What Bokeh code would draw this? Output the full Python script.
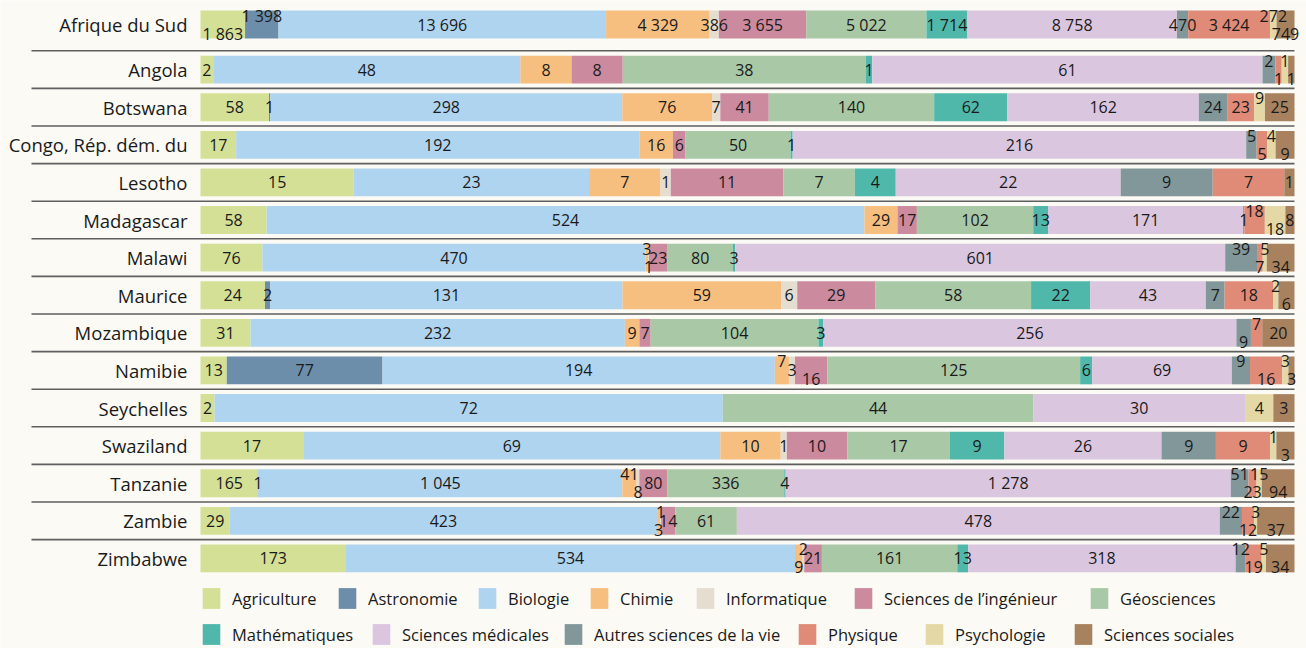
from bokeh.plotting import figure
from bokeh.models import ColumnDataSource, Range1d, Legend, LegendItem
from bokeh.core.properties import value
from bokeh.embed import file_html
from bokeh.resources import INLINE

# ---------------- data ----------------
countries = ["Afrique du Sud", "Angola", "Botswana", "Congo, Rép. dém. du", "Lesotho",
             "Madagascar", "Malawi", "Maurice", "Mozambique", "Namibie", "Seychelles",
             "Swaziland", "Tanzanie", "Zambie", "Zimbabwe"]

categories = ["Agriculture", "Astronomie", "Biologie", "Chimie", "Informatique",
              "Sciences de l’ingénieur", "Géosciences", "Mathématiques",
              "Sciences médicales", "Autres sciences de la vie", "Physique",
              "Psychologie", "Sciences sociales"]

agriculture   = [1863, 2, 58, 17, 15, 58, 76, 24, 31, 13, 2, 17, 165, 29, 173]
astronomie    = [1398, 0, 1, 0, 0, 0, 0, 2, 0, 77, 0, 0, 1, 0, 0]
biologie      = [13696, 48, 298, 192, 23, 524, 470, 131, 232, 194, 72, 69, 1045, 423, 534]
chimie        = [4329, 8, 76, 16, 7, 29, 3, 59, 9, 7, 0, 10, 41, 3, 9]
informatique  = [386, 0, 7, 0, 1, 0, 1, 6, 0, 3, 0, 1, 8, 1, 2]
ingenieur     = [3655, 8, 41, 6, 11, 17, 23, 29, 7, 16, 0, 10, 80, 14, 21]
geosciences   = [5022, 38, 140, 50, 7, 102, 80, 58, 104, 125, 44, 17, 336, 61, 161]
mathematiques = [1714, 1, 62, 1, 4, 13, 3, 22, 3, 6, 0, 9, 4, 0, 13]
medicales     = [8758, 61, 162, 216, 22, 171, 601, 43, 256, 69, 30, 26, 1278, 478, 318]
autres_vie    = [470, 2, 24, 5, 9, 1, 39, 7, 9, 9, 0, 9, 51, 22, 12]
physique      = [3424, 1, 23, 5, 7, 18, 7, 18, 7, 16, 0, 9, 23, 12, 19]
psychologie   = [272, 1, 9, 4, 0, 18, 5, 2, 0, 3, 4, 1, 15, 3, 5]
sociales      = [749, 1, 25, 9, 1, 8, 34, 6, 20, 3, 3, 3, 94, 37, 34]

series = [agriculture, astronomie, biologie, chimie, informatique, ingenieur,
          geosciences, mathematiques, medicales, autres_vie, physique,
          psychologie, sociales]

# ---------------- styles ----------------
colors = ["#d3e096", "#6c8eab", "#afd4ef", "#f6bf80", "#e4ddd0", "#cc8a9f",
          "#a9c8a6", "#4fb8aa", "#dbc6e0", "#82979a", "#df8b77", "#e4d9a6", "#a8825e"]

# small labels moved above (-1) or below (+1) the bar middle
stagger = {
    "Afrique du Sud": {"Agriculture": 1, "Astronomie": -1, "Psychologie": -1, "Sciences sociales": 1},
    "Angola": {"Autres sciences de la vie": -1, "Physique": 1, "Psychologie": -1, "Sciences sociales": 1},
    "Botswana": {"Psychologie": -1},
    "Congo, Rép. dém. du": {"Autres sciences de la vie": -1, "Physique": 1, "Psychologie": -1, "Sciences sociales": 1},
    "Madagascar": {"Physique": -1, "Psychologie": 1},
    "Malawi": {"Chimie": -1, "Informatique": 1, "Autres sciences de la vie": -1, "Physique": 1,
               "Psychologie": -1, "Sciences sociales": 1},
    "Maurice": {"Psychologie": -1, "Sciences sociales": 1},
    "Mozambique": {"Autres sciences de la vie": 1, "Physique": -1},
    "Namibie": {"Chimie": -1, "Sciences de l’ingénieur": 1, "Autres sciences de la vie": -1,
                "Physique": 1, "Psychologie": -1, "Sciences sociales": 1},
    "Swaziland": {"Psychologie": -1, "Sciences sociales": 1},
    "Tanzanie": {"Chimie": -1, "Informatique": 1, "Autres sciences de la vie": -1, "Physique": 1,
                 "Psychologie": -1, "Sciences sociales": 1},
    "Zambie": {"Chimie": 1, "Informatique": -1, "Autres sciences de la vie": -1, "Physique": 1,
               "Psychologie": -1, "Sciences sociales": 1},
    "Zimbabwe": {"Chimie": 1, "Informatique": -1, "Autres sciences de la vie": -1, "Physique": 1,
                 "Psychologie": -1, "Sciences sociales": 1},
}

FONT = "Open Sans"
BG = "#fbfaf5"
W, H = 1306, 648
BAR_LEFT_PX = 200      # bar start, px from frame left
BAR_W_PX = 1094        # bar length in px
ROW_PX = 37.6          # row pitch in px
FIRST_ROW_PX = 24      # centre of first row, px from frame top
FIRST_GAP = 0.2        # extra gap after first row (rows)
STAGGER_PX = 9
LINE_LEFT_PX = 31

# legend item anchors (px from frame left, px from frame bottom)
legend_pos = [(200, 37), (336, 37), (476, 37), (588, 37), (694, 37), (852, 37), (1088, 37),
              (200, 1), (370, 1), (562, 1), (796, 1), (923, 1), (1072, 1)]

# ---------------- layout maths ----------------
n = len(countries)
ys = [i + (FIRST_GAP if i > 0 else 0.0) for i in range(n)]

def fmt(v):
    return f"{v:,}".replace(",", " ")

totals = [sum(s[i] for s in series) for i in range(n)]

p = figure(width=W, height=H, output_backend="svg", toolbar_location=None,
           x_axis_type=None, y_axis_type=None, min_border=0,
           x_range=Range1d(-BAR_LEFT_PX / BAR_W_PX, (W - BAR_LEFT_PX) / BAR_W_PX),
           y_range=Range1d((H - FIRST_ROW_PX) / ROW_PX, -FIRST_ROW_PX / ROW_PX))
p.background_fill_color = BG
p.border_fill_color = BG
p.outline_line_color = None
p.grid.visible = False

# separator lines above each row except the first
line_y = [ys[i] - 0.5 for i in range(1, n)]
x_line0 = (LINE_LEFT_PX - BAR_LEFT_PX) / BAR_W_PX
p.segment(x0=[x_line0] * len(line_y), x1=[1.0] * len(line_y),
          y0=line_y, y1=line_y, line_color="#5e5e5e", line_width=1.6)

renderers = []
lab_x, lab_y, lab_t, lab_dy = [], [], [], []
cum = [0.0] * n
for cat, vals, col in zip(categories, series, colors):
    left = [cum[i] for i in range(n)]
    right = [cum[i] + vals[i] / totals[i] for i in range(n)]
    src = ColumnDataSource(dict(y=ys, left=left, right=right))
    r = p.hbar(y="y", left="left", right="right", height=0.74, source=src,
               fill_color=col, line_color=None)
    renderers.append(r)
    for i in range(n):
        if vals[i] > 0:
            lab_x.append((left[i] + right[i]) / 2)
            lab_y.append(ys[i])
            lab_t.append(fmt(vals[i]))
            lab_dy.append(stagger.get(countries[i], {}).get(cat, 0) * STAGGER_PX)
    cum = right

p.text(x="x", y="y", text="t", y_offset="dy",
       source=ColumnDataSource(dict(x=lab_x, y=lab_y, t=lab_t, dy=lab_dy)),
       text_align="center", text_baseline="middle", text_font=value(FONT),
       text_font_size="16px", text_color="#1a1a1a")

# country names
p.text(x=[0.0] * n, y=ys, text=countries, x_offset=-13,
       text_align="right", text_baseline="middle", text_font=value(FONT),
       text_font_size="18.5px", text_color="#1a1a1a")

# legend: one anchored entry per category
for k, (cat, r) in enumerate(zip(categories, renderers)):
    leg = Legend(items=[LegendItem(label=cat, renderers=[r])],
                 orientation="horizontal", location=legend_pos[k],
                 glyph_width=22, glyph_height=26, label_standoff=10, label_height=26,
                 padding=0, margin=0, border_line_color=None, background_fill_alpha=0,
                 label_text_font=FONT, label_text_font_size="16.5px",
                 label_text_color="#1a1a1a", label_text_baseline="middle")
    p.add_layout(leg)

open("out.html", "w").write(file_html(p, INLINE))
